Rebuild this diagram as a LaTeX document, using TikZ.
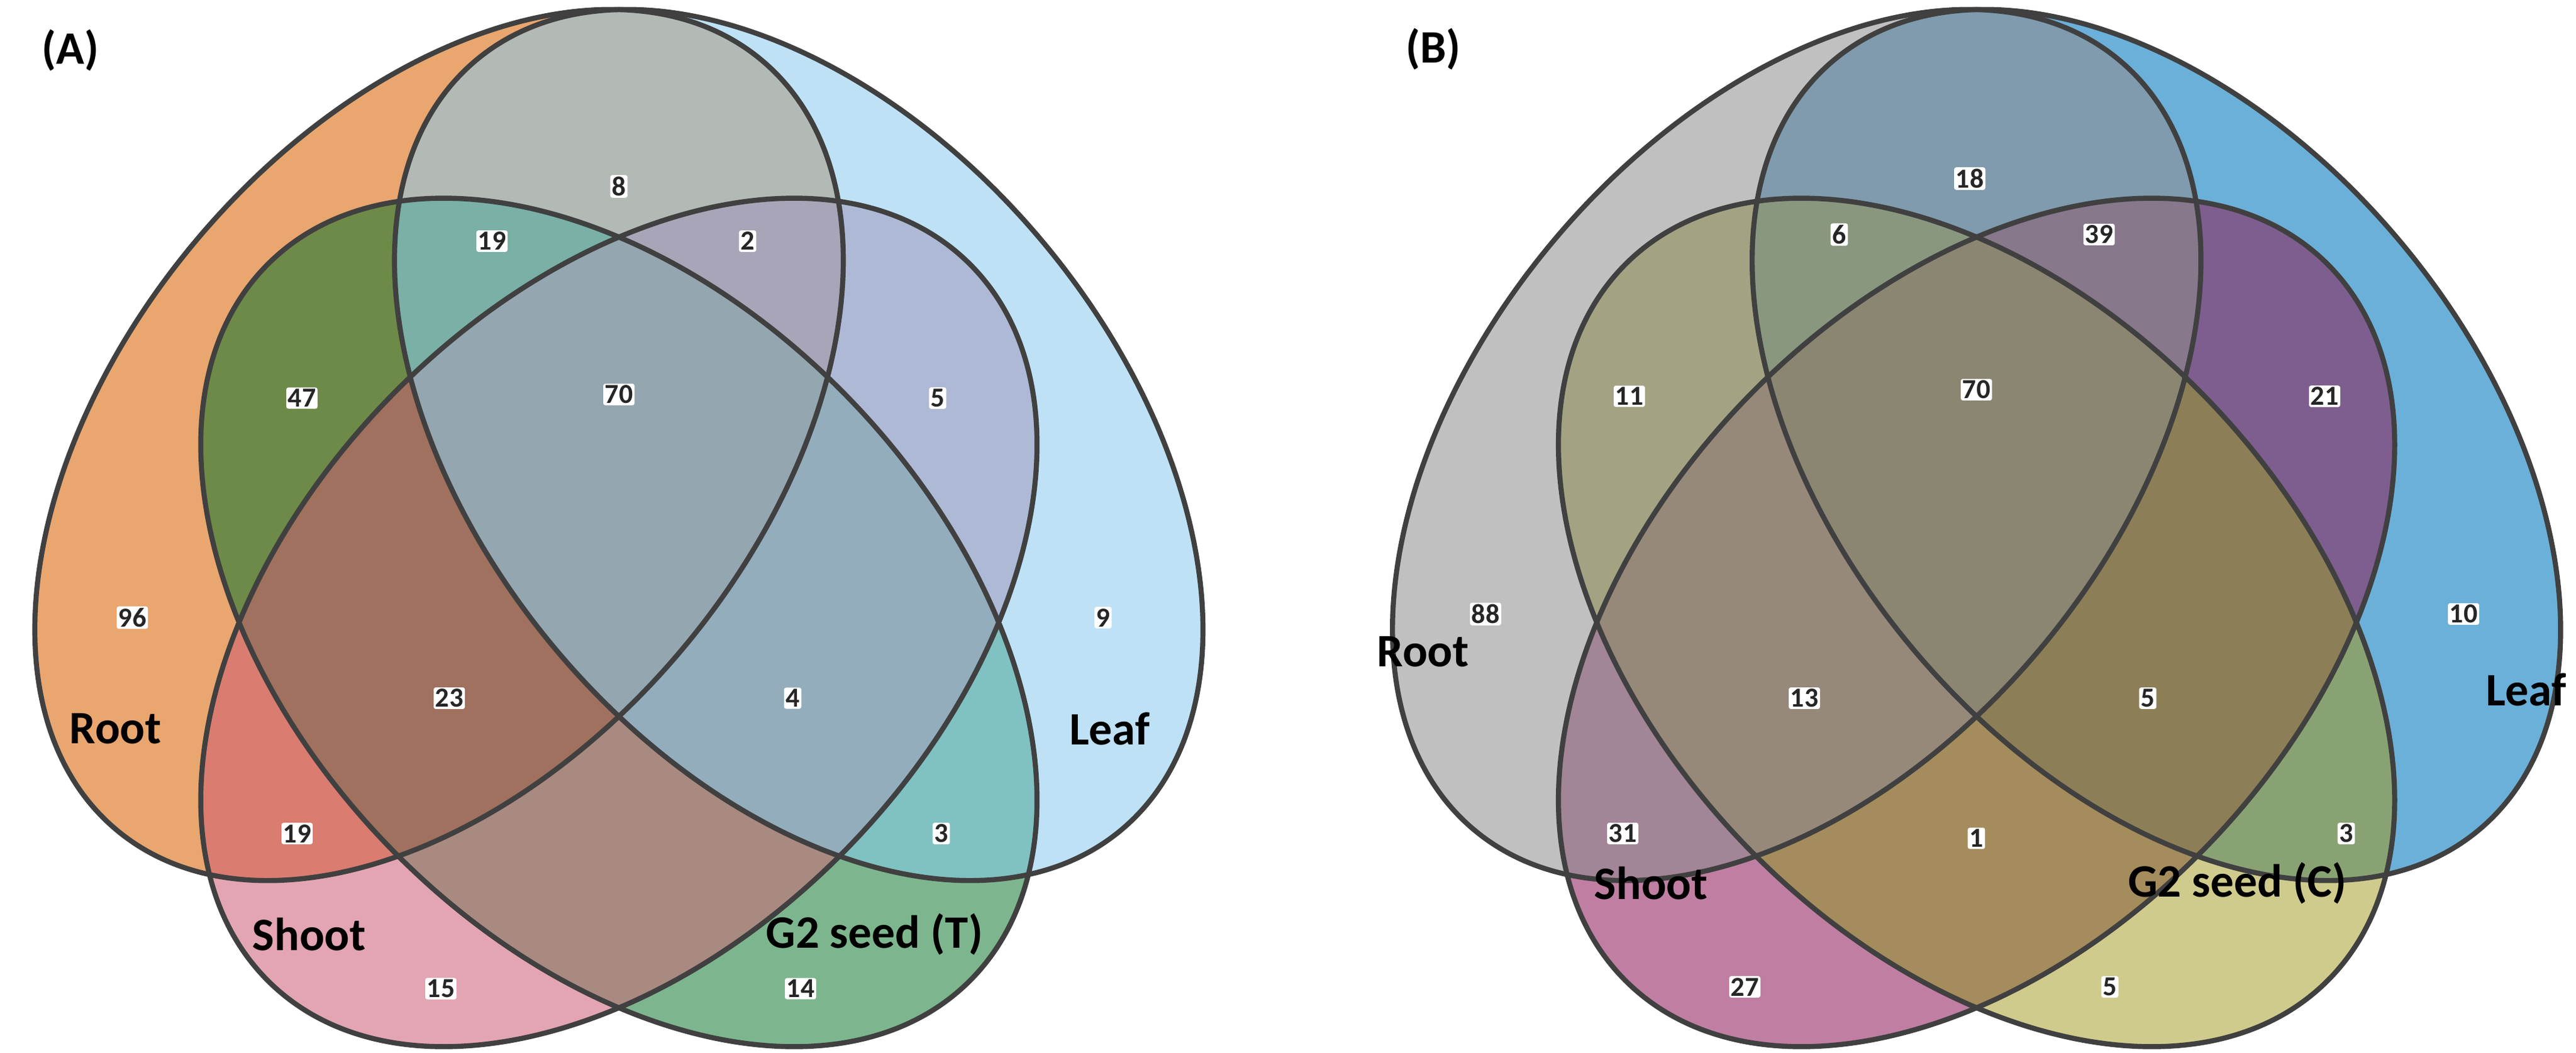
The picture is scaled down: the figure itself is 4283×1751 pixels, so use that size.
\documentclass[tikz,border=0pt]{standalone}
\usepackage{fontspec}
\setmainfont{Carlito}
% ellipse paths of one panel
\newcommand\elR[1]{\path[rotate around={50:(730,740)},#1] (730,740) ellipse [x radius=835,y radius=528];}
\newcommand\elL[1]{\path[rotate around={130:(1328,740)},#1] (1328,740) ellipse [x radius=835,y radius=528];}
\newcommand\elS[1]{\path[rotate around={46:(1029,1035)},#1] (1029,1035) ellipse [x radius=834,y radius=534];}
\newcommand\elG[1]{\path[rotate around={-46:(1029,1035)},#1] (1029,1035) ellipse [x radius=834,y radius=534];}
% fills of the fifteen regions, then the outlines
\newcommand\venn[2]{%
  \begin{scope}[xshift=#1]
  \elR{fill=#2R} \elL{fill=#2L} \elS{fill=#2S} \elG{fill=#2G}
  \begin{scope}\elR{clip}\elL{fill=#2RL}\end{scope}
  \begin{scope}\elR{clip}\elS{fill=#2RS}\end{scope}
  \begin{scope}\elR{clip}\elG{fill=#2RG}\end{scope}
  \begin{scope}\elL{clip}\elS{fill=#2LS}\end{scope}
  \begin{scope}\elL{clip}\elG{fill=#2LG}\end{scope}
  \begin{scope}\elS{clip}\elG{fill=#2SG}\end{scope}
  \begin{scope}\elR{clip}\elL{clip}\elS{fill=#2RLS}\end{scope}
  \begin{scope}\elR{clip}\elL{clip}\elG{fill=#2RLG}\end{scope}
  \begin{scope}\elR{clip}\elS{clip}\elG{fill=#2RSG}\end{scope}
  \begin{scope}\elL{clip}\elS{clip}\elG{fill=#2LSG}\end{scope}
  \begin{scope}\elR{clip}\elL{clip}\elS{clip}\elG{fill=#2RLSG}\end{scope}
  \elR{outline} \elL{outline} \elS{outline} \elG{outline}
  \end{scope}}
% colours of panel A
\definecolor{aR}{HTML}{E9A66F}\definecolor{aL}{HTML}{BEE1F5}
\definecolor{aS}{HTML}{E3A5B3}\definecolor{aG}{HTML}{7DB68E}
\definecolor{aRL}{HTML}{B3B9B4}\definecolor{aRS}{HTML}{DA7C70}
\definecolor{aRG}{HTML}{6E8A48}\definecolor{aLS}{HTML}{AEB9D5}
\definecolor{aLG}{HTML}{80C1C2}\definecolor{aSG}{HTML}{A98A80}
\definecolor{aRLS}{HTML}{A9A5B8}\definecolor{aRLG}{HTML}{7AB0A6}
\definecolor{aRSG}{HTML}{A0715E}\definecolor{aLSG}{HTML}{93ADBD}
\definecolor{aRLSG}{HTML}{94A6B0}
% colours of panel B
\definecolor{bR}{HTML}{C0C0C0}\definecolor{bL}{HTML}{6BB0D8}
\definecolor{bS}{HTML}{C07FA2}\definecolor{bG}{HTML}{CFCB8C}
\definecolor{bRL}{HTML}{7F9BAD}\definecolor{bRS}{HTML}{A28596}
\definecolor{bRG}{HTML}{A3A384}\definecolor{bLS}{HTML}{7E5E8E}
\definecolor{bLG}{HTML}{89A273}\definecolor{bSG}{HTML}{A48C5C}
\definecolor{bRLS}{HTML}{87788C}\definecolor{bRLG}{HTML}{8A977F}
\definecolor{bRSG}{HTML}{96897A}\definecolor{bLSG}{HTML}{8C7F57}
\definecolor{bRLSG}{HTML}{8B8672}
\begin{document}
\begin{tikzpicture}[x=0.01cm,y=-0.01cm,
  outline/.style={draw=black!75,line width=2.4pt},
  num/.style={font=\bfseries\fontsize{13}{13}\selectfont,text=black!85,
    fill=white,inner sep=0.8pt,rounded corners=1pt},
  setlab/.style={font=\bfseries\fontsize{22}{22}\selectfont},
  panel/.style={font=\bfseries\fontsize{22}{22}\selectfont}
  ]
  \useasboundingbox (0,0) rectangle (4283,1751);
  \venn{0}{a}
  \venn{22.56cm}{b}

  % panel A
  \node[panel] (pa) at (117,84) {(A)};
  \node[setlab] (rootA) at (192,1212) {Root};
  \node[setlab] (leafA) at (1845,1212) {Leaf};
  \node[setlab] (shootA) at (514,1554) {Shoot};
  \node[setlab] (seedA) at (1454,1554) {G2 seed (T)};
  \foreach \x/\y/\n in {1029/310/8, 818/401/19, 1243/401/2, 502/662/47,
    1029/656/70, 1559/662/5, 220/1027/96, 747/1161/23, 1318/1161/4,
    1834/1027/9, 494/1386/19, 1565/1386/3, 733/1644/15, 1331/1644/14}
    \node[num] at (\x,\y) {\n};

  % panel B
  \node[panel] (pb) at (2383,82) {(B)};
  \node[setlab] (rootB) at (2366,1084) {Root};
  \node[setlab] (leafB) at (4200,1147) {Leaf};
  \node[setlab] (shootB) at (2745,1469) {Shoot};
  \node[setlab] (seedB) at (3720,1469) {G2 seed (C)};
  \foreach \x/\y/\n in {3275/297/18, 3058/390/6, 3490/390/39, 2709/659/11,
    3286/648/70, 3865/659/21, 2470/1021/88, 3000/1161/13, 3571/1161/5,
    4096/1021/10, 2698/1386/31, 3901/1386/3, 3286/1394/1, 2901/1641/27,
    3508/1641/5}
    \node[num] at (\x,\y) {\n};
\end{tikzpicture}
\end{document}
